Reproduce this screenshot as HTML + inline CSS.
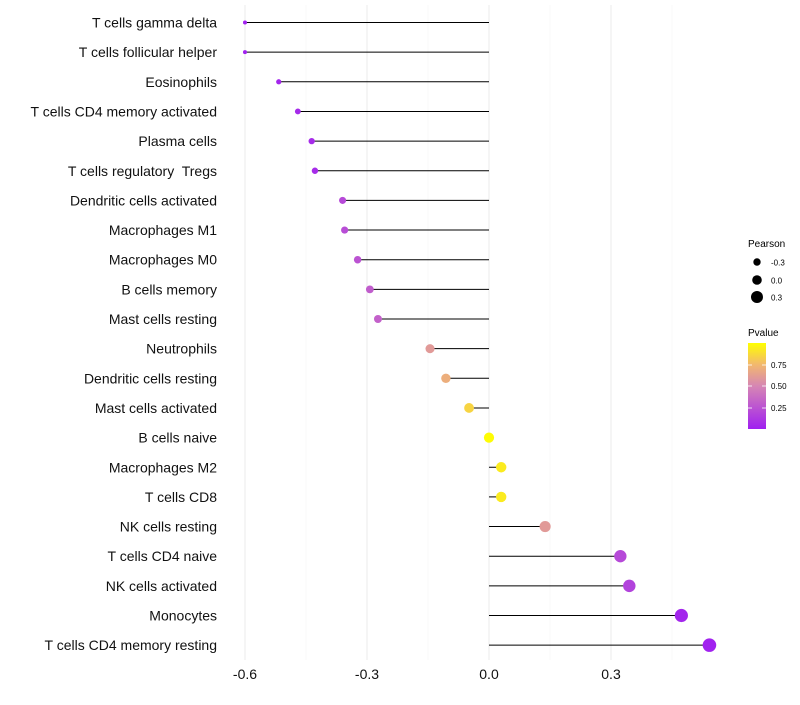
<!DOCTYPE html>
<html><head><meta charset="utf-8"><style>
body{margin:0;background:#fff;font-family:"Liberation Sans",sans-serif}
svg text{font-family:"Liberation Sans",sans-serif;white-space:pre}
</style></head><body>
<svg id="chart" width="800" height="700">
<defs><linearGradient id="pg" x1="0" y1="1" x2="0" y2="0">
<stop offset="0" stop-color="#A020F0"/><stop offset="0.5" stop-color="#D686B4"/><stop offset="0.75" stop-color="#F2B86E"/><stop offset="1" stop-color="#FFFF00"/></linearGradient></defs>
<g id="grid"></g><g id="marks"></g><g id="axes"></g>
<g>
<text x="748" y="247" font-size="10">Pearson</text>
<circle cx="757" cy="262" r="3.7" fill="#000"/><text x="771" y="265.5" font-size="8">-0.3</text>
<circle cx="757" cy="280" r="4.8" fill="#000"/><text x="771" y="283.5" font-size="8">0.0</text>
<circle cx="757" cy="297" r="6" fill="#000"/><text x="771" y="300.5" font-size="8">0.3</text>
</g>
<g>
<text x="748" y="336" font-size="10">Pvalue</text>
<rect x="748" y="343" width="18" height="86" fill="url(#pg)"/>
<g stroke="#fff" stroke-width="0.8"><line x1="748" y1="365" x2="752" y2="365"/><line x1="762" y1="365" x2="766" y2="365"/><line x1="748" y1="386" x2="752" y2="386"/><line x1="762" y1="386" x2="766" y2="386"/><line x1="748" y1="408" x2="752" y2="408"/><line x1="762" y1="408" x2="766" y2="408"/></g>
<text x="771" y="368" font-size="8">0.75</text><text x="771" y="389" font-size="8">0.50</text><text x="771" y="411" font-size="8">0.25</text>
</g>
</svg>
<script>
const categories=["T cells gamma delta","T cells follicular helper","Eosinophils","T cells CD4 memory activated","Plasma cells","T cells regulatory  Tregs","Dendritic cells activated","Macrophages M1","Macrophages M0","B cells memory","Mast cells resting","Neutrophils","Dendritic cells resting","Mast cells activated","B cells naive","Macrophages M2","T cells CD8","NK cells resting","T cells CD4 naive","NK cells activated","Monocytes","T cells CD4 memory resting"];
const pearson=[-0.6,-0.6,-0.517,-0.47,-0.436,-0.428,-0.36,-0.355,-0.323,-0.293,-0.273,-0.145,-0.106,-0.049,0.0,0.03,0.03,0.138,0.323,0.345,0.473,0.542];
const pvalue=[0.01,0.01,0.03,0.05,0.06,0.06,0.2,0.22,0.25,0.3,0.32,0.6,0.7,0.85,0.99,0.93,0.93,0.6,0.2,0.17,0.03,0.01];
const xTicks=[-0.6,-0.3,0.0,0.3];
const xTickLabels=["-0.6","-0.3","0.0","0.3"];
const NS="http://www.w3.org/2000/svg";
const x=v=>489+v*406.7;
const y=i=>22.5+i*29.65;
const rr=v=>Math.sqrt(Math.max(4,26+37*v));
const stops=[[0,[160,32,240]],[0.5,[214,134,180]],[0.75,[242,184,110]],[1,[255,255,0]]];
function col(p){for(let k=1;k<stops.length;k++){if(p<=stops[k][0]){const a=stops[k-1],b=stops[k],t=(p-a[0])/(b[0]-a[0]);return "rgb("+a[1].map((c,j)=>Math.round(c+(b[1][j]-c)*t)).join(",")+")";}}return "rgb(255,255,0)";}
function mk(t,at,par){const e=document.createElementNS(NS,t);for(const k in at)e.setAttribute(k,at[k]);document.getElementById(par).appendChild(e);return e;}
[-0.45,-0.15,0.15,0.45].forEach(v=>{const l=mk("line",{x1:x(v),x2:x(v),y1:5,y2:660,stroke:"#f4f4f4","stroke-width":0.6},"grid");

});
xTicks.forEach((v,i)=>{const l=mk("line",{x1:x(v),x2:x(v),y1:5,y2:660,stroke:"#ebebeb","stroke-width":1},"grid");


const t=mk("text",{x:x(v),y:679,"font-size":14,"text-anchor":"middle",fill:"#111"},"axes");t.textContent=xTickLabels[i];

});
categories.forEach((c,i)=>{
const t=mk("text",{x:217,y:y(i)+5,"font-size":14,"text-anchor":"end",fill:"#111"},"axes");t.textContent=c;


const l=mk("line",{x1:x(0),x2:x(pearson[i]),y1:y(i),y2:y(i),stroke:"#000","stroke-width":1},"marks");


const d=mk("circle",{cx:x(pearson[i]),cy:y(i),r:rr(pearson[i]),fill:col(pvalue[i])},"marks");


});
</script>
</body></html>
